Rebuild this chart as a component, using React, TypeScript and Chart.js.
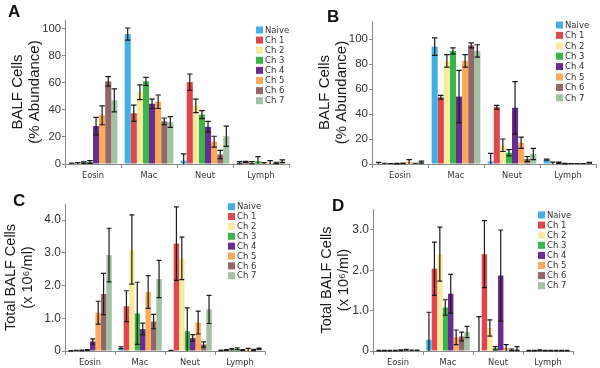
import React, { useEffect, useRef } from "react";
import { Chart, registerables } from "chart.js";

Chart.register(...registerables);

const categories = ["Eosin", "Mac", "Neut", "Lymph"];
const seriesNames = ["Naive", "Ch 1", "Ch 2", "Ch 3", "Ch 4", "Ch 5", "Ch 6", "Ch 7"];
const seriesColors = ["#45aee4", "#e0474c", "#f8eba0", "#3bb44a", "#6a2d8f", "#f9aa5a", "#916769", "#a1c3a2"];

// Panel A: BALF cells, % abundance (rows = series, columns = categories)
const panelAValues = [
  [0.3, 96, 2.5, 1.0],
  [0.5, 37.5, 60.5, 1.5],
  [1.0, 53, 43, 1.0],
  [1.5, 61, 36.5, 2.0],
  [28, 44.5, 27.5, 0.5],
  [36, 46, 16.5, 1.0],
  [61, 31.5, 7, 0.8],
  [47, 31, 20.5, 2.0],
];
const panelAErrors = [
  [0.3, 4.5, 5, 0.8],
  [0.5, 6, 6, 0.5],
  [0.6, 5.5, 5, 0.8],
  [1.0, 3, 3, 3.5],
  [6.5, 3.5, 4, 0.5],
  [7, 5, 4, 1.5],
  [3.5, 2.5, 3, 0.5],
  [8.5, 4, 7.5, 1.0],
];

// Panel B: BALF cells, % abundance
const panelBValues = [
  [0.5, 94, 2, 3.5],
  [0.3, 53.5, 45.5, 0.5],
  [0.2, 82.5, 15, 1.0],
  [0.3, 90.5, 9, 0.3],
  [0.5, 54, 45, 0.2],
  [1.5, 82.5, 17, 0.2],
  [0.3, 95, 4, 0.2],
  [1.5, 90.5, 8, 1.0],
];
const panelBErrors = [
  [0.8, 7, 6.5, 0.5],
  [0.3, 1.5, 1.5, 1.0],
  [0.2, 5, 5, 0.5],
  [0.2, 2.5, 2.5, 0.2],
  [0.3, 21, 21, 0.2],
  [2, 5, 4.5, 0.2],
  [0.3, 2, 2, 0.2],
  [0.8, 5, 4.5, 0.4],
];

// Panel C: total BALF cells (x 10^6/ml)
const panelCValues = [
  [0.01, 0.1, 0.01, 0.02],
  [0.01, 1.37, 3.28, 0.03],
  [0.02, 3.1, 2.83, 0.05],
  [0.03, 1.15, 0.6, 0.07],
  [0.29, 0.67, 0.4, 0.03],
  [1.17, 1.8, 0.87, 0.04],
  [1.74, 0.9, 0.2, 0.03],
  [2.93, 2.2, 1.27, 0.07],
];
const panelCErrors = [
  [0.005, 0.03, 0.01, 0.01],
  [0.01, 0.47, 1.12, 0.01],
  [0.01, 1.06, 0.65, 0.02],
  [0.01, 0.95, 0.72, 0.03],
  [0.08, 0.18, 0.1, 0.01],
  [0.35, 0.5, 0.35, 0.04],
  [0.63, 0.22, 0.08, 0.02],
  [0.82, 0.57, 0.43, 0.02],
];

// Panel D: total BALF cells (x 10^6/ml)
const panelDValues = [
  [0.01, 0.28, 0.01, 0.01],
  [0.01, 2.04, 2.4, 0.01],
  [0.01, 2.4, 0.57, 0.02],
  [0.01, 1.08, 0.07, 0.01],
  [0.02, 1.42, 1.87, 0.01],
  [0.03, 0.34, 0.08, 0.01],
  [0.01, 0.36, 0.03, 0.01],
  [0.02, 0.47, 0.06, 0.01],
];
const panelDErrors = [
  [0.005, 0.68, 0.84, 0.005],
  [0.005, 0.66, 0.83, 0.005],
  [0.005, 0.67, 0.2, 0.01],
  [0.005, 0.19, 0.04, 0.005],
  [0.01, 0.48, 1.13, 0.005],
  [0.01, 0.18, 0.08, 0.005],
  [0.01, 0.11, 0.02, 0.005],
  [0.005, 0.14, 0.05, 0.005],
];

const pctTitle = ["BALF Cells", "(% Abundance)"];
const totalTitle = ["Total BALF Cells", "(x 10\u2076/ml)"];

const fmtInt = (v: number) => (v % 20 === 0 ? String(v) : "");
const fmtDec = (v: number) => (v === 0 ? "0" : Math.abs(v - Math.round(v)) < 1e-9 ? v.toFixed(1) : "");

type PanelCfg = {
  letter: string;
  values: number[][];
  errors: number[][];
  title: string[];
  yMax: number;
  yStep: number;
  fmt: (v: number) => string;
  area: { left: number; right: number; top: number; bottom: number };
  titlePad: number;
  titleSize: number;
  tickSize: number;
  legend: { x: number; y: number; gap: number };
  letterPos: { x: number; y: number };
  pos: { x: number; y: number };
};

const W = 300;
const H = 184;

const panels: PanelCfg[] = [
  {
    letter: "A",
    values: panelAValues,
    errors: panelAErrors,
    title: pctTitle,
    yMax: 106.4,
    yStep: 20,
    fmt: fmtInt,
    area: { left: 65, right: 289, top: 20, bottom: 164 },
    titlePad: 9,
    titleSize: 15,
    tickSize: 11.3,
    legend: { x: 256, y: 30, gap: 10.1 },
    letterPos: { x: 8, y: 17 },
    pos: { x: 0, y: 0 },
  },
  {
    letter: "B",
    values: panelBValues,
    errors: panelBErrors,
    title: pctTitle,
    yMax: 114.5,
    yStep: 20,
    fmt: fmtInt,
    area: { left: 72, right: 296, top: 21, bottom: 164 },
    titlePad: 16,
    titleSize: 15,
    tickSize: 11.5,
    legend: { x: 256, y: 25, gap: 10.4 },
    letterPos: { x: 27, y: 22 },
    pos: { x: 300, y: 0 },
  },
  {
    letter: "C",
    values: panelCValues,
    errors: panelCErrors,
    title: totalTitle,
    yMax: 4.49,
    yStep: 1,
    fmt: fmtDec,
    area: { left: 65, right: 265, top: 20, bottom: 167 },
    titlePad: 3,
    titleSize: 14.5,
    tickSize: 12,
    legend: { x: 228, y: 22.7, gap: 9.86 },
    letterPos: { x: 13, y: 22 },
    pos: { x: 0, y: 184 },
  },
  {
    letter: "D",
    values: panelDValues,
    errors: panelDErrors,
    title: totalTitle,
    yMax: 3.52,
    yStep: 1,
    fmt: fmtDec,
    area: { left: 73, right: 273, top: 25, bottom: 167 },
    titlePad: 19,
    titleSize: 14.5,
    tickSize: 12,
    legend: { x: 238, y: 31, gap: 10.1 },
    letterPos: { x: 32, y: 27 },
    pos: { x: 300, y: 184 },
  },
];

const errorBarPlugin = {
  id: "errorBars",
  afterDatasetsDraw(chart: any) {
    const ctx = chart.ctx;
    const yScale = chart.scales.y;
    const area = chart.chartArea;
    chart.data.datasets.forEach((ds: any, di: number) => {
      const meta = chart.getDatasetMeta(di);
      meta.data.forEach((bar: any, i: number) => {
        const v = ds.data[i];
        const e = ds.errors[i];
        const x = bar.x;
        const cw = bar.width * 0.45;
        const yt = yScale.getPixelForValue(v + e);
        const ybRaw = yScale.getPixelForValue(v - e);
        const clipped = ybRaw >= area.bottom;
        const yb = Math.min(ybRaw, area.bottom);
        ctx.save();
        ctx.strokeStyle = "#1a1a1a";
        ctx.lineWidth = 1.2;
        ctx.beginPath();
        ctx.moveTo(x, yt);
        ctx.lineTo(x, yb);
        ctx.moveTo(x - cw, yt);
        ctx.lineTo(x + cw, yt);
        if (!clipped) {
          ctx.moveTo(x - cw, yb);
          ctx.lineTo(x + cw, yb);
        }
        ctx.stroke();
        ctx.restore();
      });
    });
  },
};

const decorPlugin = {
  id: "panelDecor",
  afterDraw(chart: any) {
    const cfg = chart.options.plugins.panelDecor as PanelCfg;
    if (!cfg) return;
    const ctx = chart.ctx;
    ctx.save();
    // panel letter
    ctx.fillStyle = "#111";
    ctx.font = "bold 17px 'Liberation Sans', Arial, sans-serif";
    ctx.textBaseline = "alphabetic";
    ctx.textAlign = "left";
    ctx.fillText(cfg.letter, cfg.letterPos.x, cfg.letterPos.y);
    // legend
    ctx.font = "8.5px 'DejaVu Sans', Verdana, sans-serif";
    ctx.textBaseline = "middle";
    chart.data.datasets.forEach((ds: any, i: number) => {
      const cy = cfg.legend.y + i * cfg.legend.gap;
      ctx.fillStyle = ds.backgroundColor;
      ctx.fillRect(cfg.legend.x, cy - 3.5, 7, 7);
      ctx.fillStyle = "#333";
      ctx.fillText(ds.label, cfg.legend.x + 9, cy + 0.5);
    });
    ctx.restore();
  },
};

function Panel({ cfg }: { cfg: PanelCfg }) {
  const ref = useRef<HTMLCanvasElement | null>(null);
  useEffect(() => {
    if (!ref.current) return;
    const a = cfg.area;
    const chart = new Chart(ref.current, {
      type: "bar",
      data: {
        labels: categories,
        datasets: seriesNames.map((name, i) => ({
          label: name,
          data: cfg.values[i],
          errors: cfg.errors[i],
          backgroundColor: seriesColors[i],
          borderWidth: 0,
          barPercentage: 1,
          categoryPercentage: 0.87,
        })) as any,
      },
      options: {
        animation: false,
        responsive: false,
        devicePixelRatio: 1,
        layout: { padding: { left: 0, top: a.top, right: W - a.right, bottom: 0 } },
        plugins: {
          legend: { display: false },
          tooltip: { enabled: false },
          panelDecor: cfg,
        } as any,
        scales: {
          x: {
            grid: { display: true, drawOnChartArea: false, offset: true, tickLength: 4, color: "#8a8a8a" },
            border: { display: true, color: "#8a8a8a", width: 1 },
            ticks: {
              font: { family: "'DejaVu Sans', Verdana, sans-serif", size: 8.3 },
              color: "#333",
              padding: 3,
              maxRotation: 0,
              autoSkip: false,
            },
            afterFit: (s: any) => {
              s.height = H - a.bottom;
            },
          },
          y: {
            min: 0,
            max: cfg.yMax,
            grid: { display: true, drawOnChartArea: false, tickLength: 3, color: "#8a8a8a" },
            border: { display: true, color: "#8a8a8a", width: 1 },
            ticks: {
              stepSize: cfg.yStep,
              includeBounds: false,
              callback: (v: any) => cfg.fmt(Number(v)),
              font: { family: "'Liberation Sans', Arial, sans-serif", size: cfg.tickSize },
              color: "#333",
              padding: 1,
            },
            title: {
              display: true,
              text: cfg.title,
              font: { family: "'Liberation Sans', Arial, sans-serif", size: cfg.titleSize, lineHeight: 1.15 },
              color: "#1a1a1a",
              padding: { top: cfg.titlePad, bottom: 0 },
            },
            afterFit: (s: any) => {
              s.width = a.left;
            },
          },
        },
      } as any,
      plugins: [errorBarPlugin, decorPlugin],
    });
    return () => chart.destroy();
  }, [cfg]);
  return (
    <canvas
      ref={ref}
      width={W}
      height={H}
      style={{ position: "absolute", left: cfg.pos.x, top: cfg.pos.y, width: W, height: H }}
    />
  );
}

export default function App() {
  return (
    <div style={{ position: "absolute", left: 0, top: 0, width: 600, height: 368, background: "#fff" }}>
      {panels.map((p) => (
        <Panel key={p.letter} cfg={p} />
      ))}
    </div>
  );
}
